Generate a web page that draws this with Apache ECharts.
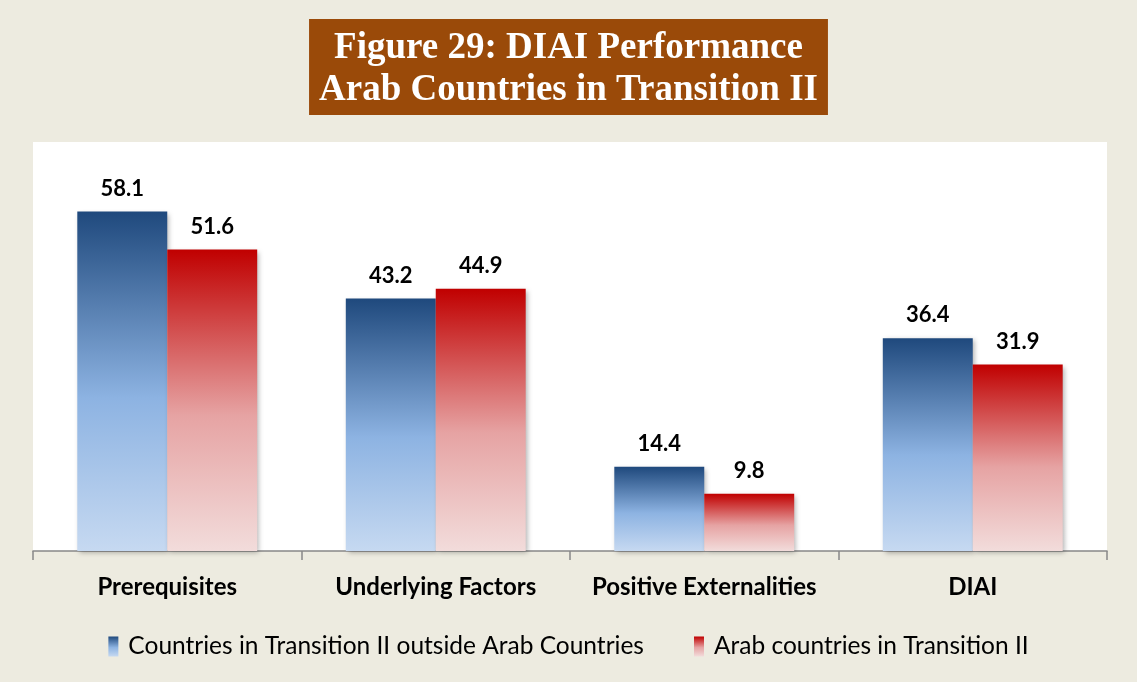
<!DOCTYPE html>
<html>
<head>
<meta charset="utf-8">
<script src="https://cdn.jsdelivr.net/npm/echarts@6/dist/echarts.min.js"></script>
<style>
  html, body { margin: 0; padding: 0; background: #EDEBE0; }
  #main { width: 1137px; height: 682px; }
</style>
</head>
<body>
<div id="main"></div>
<script>
const categories = ['Prerequisites', 'Underlying Factors', 'Positive Externalities', 'DIAI'];
const outsideArab = [58.1, 43.2, 14.4, 36.4];
const arabTransition = [51.6, 44.9, 9.8, 31.9];
const seriesNames = ['Countries in Transition II outside Arab Countries', 'Arab countries in Transition II'];

const blueGrad = new echarts.graphic.LinearGradient(0, 0, 0, 1, [
    { offset: 0, color: '#1F497D' },
    { offset: 0.55, color: '#8DB3E2' },
    { offset: 1, color: '#C6D9F1' }
]);
const redGrad = new echarts.graphic.LinearGradient(0, 0, 0, 1, [
    { offset: 0, color: '#C00000' },
    { offset: 0.55, color: '#E6A3A3' },
    { offset: 1, color: '#F2DCDB' }
]);

const myChart = echarts.init(document.getElementById('main'));
const barLabel = {
    show: true,
    position: 'top',
    distance: 12,
    color: '#000',
    fontFamily: 'Lato',
    fontWeight: 'bold',
    fontSize: 22
};
const shadow = {
    shadowBlur: 5,
    shadowColor: 'rgba(0,0,0,0.3)',
    shadowOffsetX: 2,
    shadowOffsetY: 2
};
const option = {
    backgroundColor: '#EDEBE0',
    title: {
        text: 'Figure 29: DIAI Performance\nArab Countries in Transition II',
        left: 'center',
        top: 19,
        backgroundColor: '#9A4A09',
        padding: [8, 10, 4, 10],
        textStyle: {
            color: '#fff',
            fontFamily: 'Liberation Serif',
            fontWeight: 'bold',
            fontSize: 37,
            lineHeight: 42
        }
    },
    grid: {
        left: 33,
        right: 30,
        top: 142,
        bottom: 131,
        show: true,
        backgroundColor: '#fff',
        borderWidth: 0
    },
    legend: {
        bottom: 18,
        left: 'center',
        itemWidth: 10,
        itemHeight: 20,
        itemGap: 50,
        icon: 'rect',
        textStyle: {
            fontFamily: 'Lato',
            fontSize: 24.5,
            color: '#000',
            padding: [0, 0, 0, 5]
        },
        data: seriesNames
    },
    xAxis: {
        type: 'category',
        data: categories,
        axisLine: { lineStyle: { color: '#888', width: 1.5 } },
        axisTick: { show: true, interval: 0, length: 9, lineStyle: { color: '#888', width: 1.5 } },
        axisLabel: {
            interval: 0,
            margin: 24,
            color: '#000',
            fontFamily: 'Lato',
            fontWeight: 'bold',
            fontSize: 24
        }
    },
    yAxis: {
        type: 'value',
        min: 0,
        max: 70,
        show: false,
        splitLine: { show: false }
    },
    series: [
        {
            name: seriesNames[0],
            type: 'bar',
            data: outsideArab,
            barGap: '0%',
            barCategoryGap: '33%',
            itemStyle: Object.assign({ color: blueGrad }, shadow),
            label: barLabel
        },
        {
            name: seriesNames[1],
            type: 'bar',
            data: arabTransition,
            itemStyle: Object.assign({ color: redGrad }, shadow),
            label: barLabel
        }
    ]
};
myChart.setOption(option);
</script>
</body>
</html>
